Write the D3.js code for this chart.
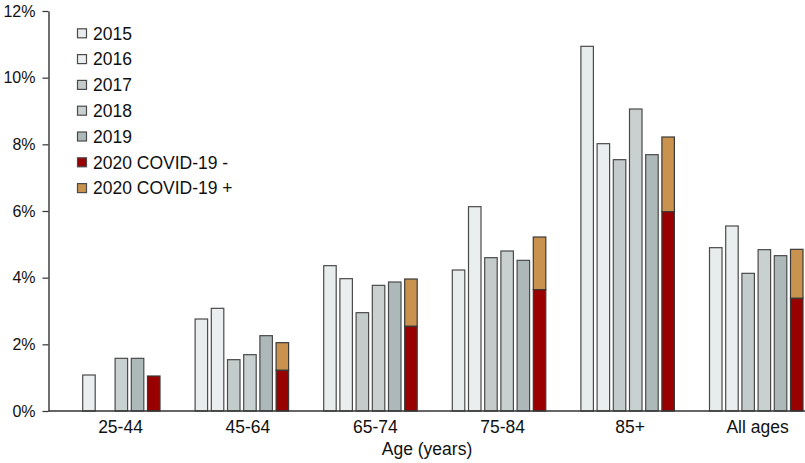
<!DOCTYPE html>
<html>
<head>
<meta charset="utf-8">
<script src="https://cdn.jsdelivr.net/npm/d3@7"></script>
<style>
  body { margin: 0; background: #fff; }
  svg { display: block; font-family: "Liberation Sans", Arial, Helvetica, sans-serif; }
</style>
</head>
<body>
<svg></svg>
<script>
var width = 805;
var height = 463;

// age groups on the x axis
var groups = ["25-44", "45-64", "65-74", "75-84", "85+", "All ages"];
var years = ["2015", "2016", "2017", "2018", "2019", "2020"];

// percent per year, null = no bar
var v2015 = [null, 2.76, 4.36, 4.23, 10.94, 4.90];
var v2016 = [1.08, 3.08, 3.97, 6.13, 8.02, 5.55];
var v2017 = [null, 1.54, 2.95, 4.60, 7.54, 4.13];
var v2018 = [1.58, 1.69, 3.77, 4.80, 9.06, 4.84];
var v2019 = [1.58, 2.26, 3.87, 4.52, 7.69, 4.66];
// 2020 is stacked: covid negative at the bottom, covid positive on top
var v2020neg = [1.05, 1.22, 2.54, 3.64, 5.98, 3.38];
var v2020pos = [0, 0.83, 1.42, 1.58, 2.24, 1.47];

var yTicks = [0, 2, 4, 6, 8, 10, 12];

var legendLabels = ["2015", "2016", "2017", "2018", "2019", "2020 COVID-19 -", "2020 COVID-19 +"];
var colors = ["#e8ecec", "#eaeeee", "#c4cccb", "#c9d1d0", "#adb8b8", "#990000", "#c9924f"];

var yearSeries = [v2015, v2016, v2017, v2018, v2019];

var svg = d3.select("svg")
    .attr("width", width)
    .attr("height", height);

var axisLeftX = 48.5;
var baseY = 411;

var yScale = d3.scaleLinear()
    .domain([0, 12])
    .range([baseY, 11]);

var xScale = d3.scaleBand()
    .domain(groups)
    .range([66.5, 66.5 + 6 * 128.6]);

var xInner = d3.scaleBand()
    .domain(years)
    .range([0, 93.5])
    .paddingInner(0.228);

// labels sit slightly off the bar groups in the original
var xLabel = d3.scalePoint()
    .domain(groups)
    .range([120, 757]);

// plain bars 2015-2019
yearSeries.forEach(function(series, i) {
  svg.append("g")
    .selectAll("rect")
    .data(series.map((v, j) => ({ group: groups[j], value: v })).filter(d => d.value !== null))
    .enter()
    .append("rect")
      .attr("x", d => xScale(d.group) + xInner(years[i]))
      .attr("y", d => yScale(d.value))
      .attr("width", xInner.bandwidth())
      .attr("height", d => baseY - yScale(d.value))
      .attr("fill", colors[i])
      .attr("stroke", "#4a4a4a")
      .attr("stroke-width", 1.2);
});

// stacked 2020 bars
var stackData = groups.map((g, j) => ({ group: g, neg: v2020neg[j], pos: v2020pos[j] }));

var g2020 = svg.append("g");

g2020.selectAll("rect.pos")
  .data(stackData.filter(d => d.pos > 0))
  .enter()
  .append("rect")
    .attr("class", "pos")
    .attr("x", d => xScale(d.group) + xInner("2020"))
    .attr("y", d => yScale(d.neg + d.pos))
    .attr("width", xInner.bandwidth())
    .attr("height", d => yScale(d.neg) - yScale(d.neg + d.pos))
    .attr("fill", colors[6])
    .attr("stroke", "#3a3a3a")
    .attr("stroke-width", 1.2);

g2020.selectAll("rect.neg")
  .data(stackData)
  .enter()
  .append("rect")
    .attr("class", "neg")
    .attr("x", d => xScale(d.group) + xInner("2020"))
    .attr("y", d => yScale(d.neg))
    .attr("width", xInner.bandwidth())
    .attr("height", d => baseY - yScale(d.neg))
    .attr("fill", colors[5])
    .attr("stroke", "#3a3a3a")
    .attr("stroke-width", 1.2);

// y axis
var yAxis = svg.append("g")
    .attr("transform", "translate(" + axisLeftX + ",0)")
    .call(d3.axisLeft(yScale)
            .tickValues(yTicks)
            .tickFormat(d => d + "%")
            .tickSize(6)
            .tickSizeOuter(0)
            .tickPadding(7));

yAxis.select(".domain").attr("stroke", "#333").attr("stroke-width", 1.4);
yAxis.selectAll(".tick line").attr("stroke", "#333").attr("stroke-width", 1.2);
yAxis.selectAll("text")
    .attr("fill", "#111")
    .style("font-size", "16px")
    .style("font-family", "'Liberation Sans', Arial, sans-serif");

// x baseline
svg.append("line")
    .attr("x1", axisLeftX)
    .attr("x2", width)
    .attr("y1", baseY)
    .attr("y2", baseY)
    .attr("stroke", "#333")
    .attr("stroke-width", 1.4);

// x labels
var xAxis = svg.append("g")
    .attr("transform", "translate(0," + baseY + ")")
    .call(d3.axisBottom(xLabel).tickSize(0).tickPadding(10));

xAxis.select(".domain").remove();
xAxis.selectAll("text")
    .attr("fill", "#111")
    .style("font-size", "17.5px")
    .style("font-family", "'Liberation Sans', Arial, sans-serif");

svg.append("text")
    .attr("x", 427)
    .attr("y", 455)
    .attr("text-anchor", "middle")
    .attr("fill", "#111")
    .style("font-size", "17.5px")
    .text("Age (years)");

// legend
var legend = svg.append("g")
  .selectAll("g")
  .data(legendLabels)
  .enter()
  .append("g")
    .attr("transform", (d, i) => "translate(77," + (33.3 + i * 25.8) + ")");

legend.append("rect")
    .attr("x", 0.5)
    .attr("y", -4.5)
    .attr("width", 9)
    .attr("height", 9)
    .attr("fill", (d, i) => colors[i])
    .attr("stroke", "#4a4a4a")
    .attr("stroke-width", 1.2);

legend.append("text")
    .attr("x", 16)
    .attr("dy", "0.36em")
    .attr("fill", "#111")
    .style("font-size", "17.5px")
    .text(d => d);
</script>
</body>
</html>
